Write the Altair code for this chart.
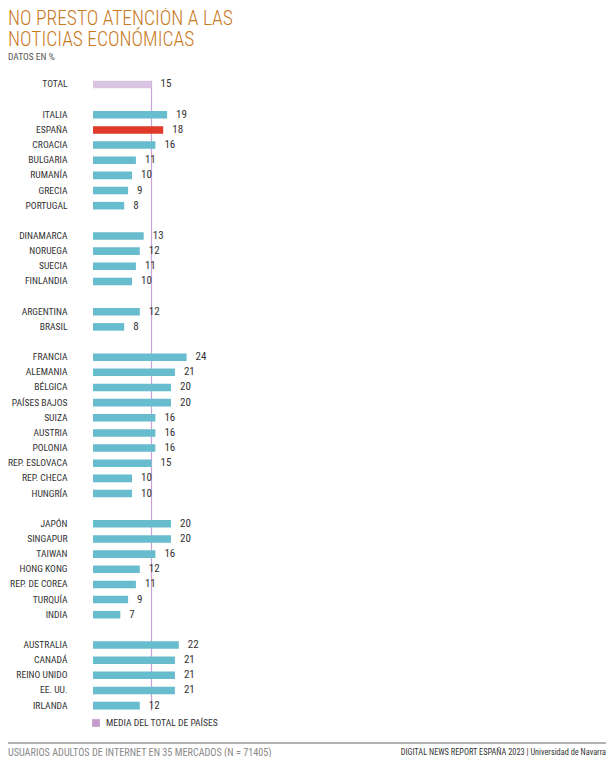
import altair as alt
import pandas as pd

# ---------------- data ----------------
countries = ["TOTAL",
             "ITALIA", "ESPAÑA", "CROACIA", "BULGARIA", "RUMANÍA", "GRECIA", "PORTUGAL",
             "DINAMARCA", "NORUEGA", "SUECIA", "FINLANDIA",
             "ARGENTINA", "BRASIL",
             "FRANCIA", "ALEMANIA", "BÉLGICA", "PAÍSES BAJOS", "SUIZA", "AUSTRIA",
             "POLONIA", "REP. ESLOVACA", "REP. CHECA", "HUNGRÍA",
             "JAPÓN", "SINGAPUR", "TAIWAN", "HONG KONG", "REP. DE COREA", "TURQUÍA", "INDIA",
             "AUSTRALIA", "CANADÁ", "REINO UNIDO", "EE. UU.", "IRLANDA"]
values = [15,
          19, 18, 16, 11, 10, 9, 8,
          13, 12, 11, 10,
          12, 8,
          24, 21, 20, 20, 16, 16, 16, 15, 10, 10,
          20, 20, 16, 12, 11, 9, 7,
          22, 21, 21, 21, 12]
group_sizes = [1, 7, 4, 2, 10, 7, 5]
average = 15

title_lines = ["NO PRESTO ATENCIÓN A LAS", "NOTICIAS ECONÓMICAS"]
subtitle = "DATOS EN %"
legend_label = "MEDIA DEL TOTAL DE PAÍSES"
footer_left = "USUARIOS ADULTOS DE INTERNET EN 35 MERCADOS (N = 71405)"
footer_right = "DIGITAL NEWS REPORT ESPAÑA 2023 | Universidad de Navarra"

# ---------------- build table ----------------
rows = []
ydomain = []
i = 0
for g, size in enumerate(group_sizes):
    if g > 0:
        ydomain.append(f"__gap{g}")
    for _ in range(size):
        c = countries[i]
        kind = "total" if c == "TOTAL" else ("spain" if c == "ESPAÑA" else "other")
        rows.append({"row": c, "value": values[i], "kind": kind})
        ydomain.append(c)
        i += 1
df = pd.DataFrame(rows)

FONT = "Roboto Condensed, Liberation Sans, sans-serif"
W, H = 598, 749

xscale = alt.Scale(domain=[0, 30], range=[85, 202])
step = 15.15
y0 = 68.9
yscale = alt.Scale(domain=ydomain, range=[y0, y0 + step * len(ydomain)],
                   paddingInner=0.5, paddingOuter=0.25)

base = alt.Chart(df)

one = pd.DataFrame({"v": [average]})

rule = alt.Chart(one).mark_rule(color="#C9A2D8", strokeWidth=1.2).encode(
    x=alt.X("v:Q", scale=xscale, axis=None),
    y=alt.value(y0 + 3.8), y2=alt.value(y0 + step * len(ydomain) - 2.5)
)

bars = base.mark_bar().encode(
    x=alt.X("value:Q", scale=xscale, axis=None),
    y=alt.Y("row:N", scale=yscale, axis=None, sort=ydomain),
    color=alt.Color("kind:N",
                    scale=alt.Scale(domain=["total", "spain", "other"],
                                    range=["#D9C4E1", "#E03A28", "#67BCCD"]),
                    legend=None),
)

names = base.mark_text(align="right", baseline="middle", font=FONT, fontSize=9.6,
                       color="#333333").encode(
    x=alt.value(59.5),
    y=alt.Y("row:N", scale=yscale, axis=None, sort=ydomain),
    text="row:N",
)

labels = base.mark_text(align="left", baseline="middle", dx=9, font=FONT, fontSize=11,
                        color="#333333").encode(
    x=alt.X("value:Q", scale=xscale, axis=None),
    y=alt.Y("row:N", scale=yscale, axis=None, sort=ydomain),
    text="value:Q",
)

def txt(s, x, y, size, color, align="left", baseline="alphabetic", weight=400):
    return alt.Chart(pd.DataFrame({"t": [s]})).mark_text(
        align=align, baseline=baseline, font=FONT, fontSize=size, color=color,
        fontWeight=weight
    ).encode(x=alt.value(x), y=alt.value(y), text="t:N")

title1 = txt(title_lines[0], 0, 17, 19.5, "#C87A1E", weight=300)
title2 = txt(title_lines[1], 0, 38, 19.5, "#C87A1E", weight=300)
sub = txt(subtitle, 0, 52, 9.5, "#555555")

leg_sq = alt.Chart(pd.DataFrame({"k": [legend_label]})).mark_square(
    size=60, color="#C39BCB", opacity=1, filled=True
).encode(x=alt.value(88), y=alt.value(715))
leg_txt = txt(legend_label, 98, 715, 9.6, "#333333", baseline="middle")

footer_rule = alt.Chart(pd.DataFrame({"k": [0]})).mark_rule(
    color="#9a9a9a", strokeWidth=1.5
).encode(x=alt.value(0), x2=alt.value(W), y=alt.value(735))
foot_l = txt(footer_left, 0, 745, 10.2, "#8a8a8a", baseline="middle")
foot_r = txt(footer_right, W, 745, 8.3, "#333333", align="right", baseline="middle")

chart = alt.layer(
    rule, bars, names, labels, title1, title2, sub, leg_sq, leg_txt,
    footer_rule, foot_l, foot_r
).properties(
    width=W, height=H, autosize=alt.AutoSizeParams(type="none"), padding=0,
    background="white"
).configure_view(strokeWidth=0, stroke="transparent")

chart.save("out.html", embed_options={"renderer": "svg", "actions": False})
